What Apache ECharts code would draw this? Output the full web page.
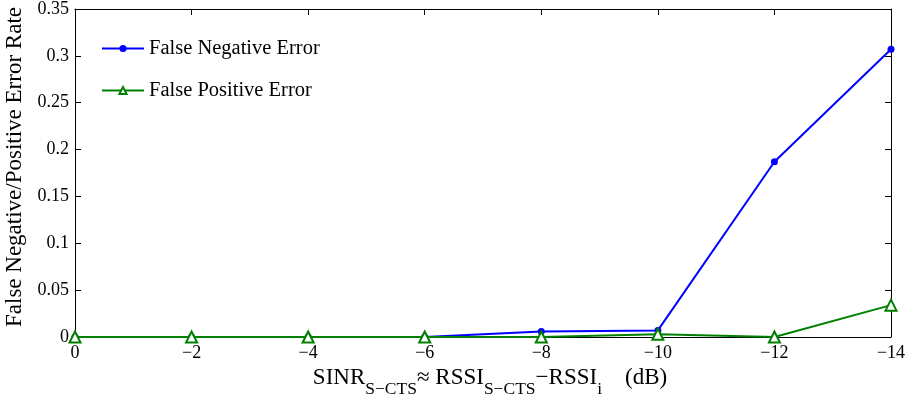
<!DOCTYPE html>
<html>
<head>
<meta charset="utf-8">
<script src="https://cdn.jsdelivr.net/npm/echarts@6/dist/echarts.min.js"></script>
<style>
  html, body { margin: 0; padding: 0; background: #fff; }
  #chart { width: 909px; height: 396px; }
</style>
</head>
<body>
<div id="chart"></div>
<script>
// SINR values (dB) along the x axis
const sinrDb = [0, -2, -4, -6, -8, -10, -12, -14];
// error rates measured at each SINR
const falseNegative = [0, 0, 0, 0, 0.006, 0.007, 0.187, 0.307];
const falsePositive = [0, 0, 0, 0, 0, 0.003, 0, 0.034];
const yTicks = [0, 0.05, 0.1, 0.15, 0.2, 0.25, 0.3, 0.35];

const FONT = '"Liberation Serif", "DejaVu Serif", serif';
const fmtMinus = v => String(v).replace('-', '\u2212');

const chart = echarts.init(document.getElementById('chart'), null, { renderer: 'canvas' });

const axisLineStyle = { color: '#000', width: 1 };
const tickStyle = { inside: true, length: 6, lineStyle: axisLineStyle };

chart.setOption({
  animation: false,
  backgroundColor: '#fff',
  textStyle: { fontFamily: FONT },
  grid: { left: 75, right: 18, top: 9, bottom: 59, containLabel: false, outerBoundsMode: 'none' },
  legend: {
    orient: 'vertical',
    left: 96,
    top: 33,
    itemWidth: 42,
    itemHeight: 9,
    itemGap: 21,
    textStyle: { fontFamily: FONT, fontSize: 20.5, color: '#000' },
    data: [
      { name: 'False Negative Error' },
      { name: 'False Positive Error' }
    ]
  },
  xAxis: [
    {
      type: 'value',
      inverse: true,
      min: -14,
      max: 0,
      interval: 2,
      position: 'bottom',
      axisLine: { onZero: false, lineStyle: axisLineStyle },
      axisTick: tickStyle,
      splitLine: { show: false },
      axisLabel: {
        color: '#000', fontFamily: FONT, fontSize: 18, margin: 7,
        formatter: v => fmtMinus(v)
      },
      name: '{m|SINR}{s|S\u2212CTS}{m|\u2248 RSSI}{s|S\u2212CTS}{m|\u2212RSSI}{s|i}{m|    (dB)}',
      nameLocation: 'middle',
      nameGap: 26,
      nameTextStyle: {
        color: '#000',
        fontFamily: FONT,
        padding: [0, 0, 0, 14],
        rich: {
          m: { fontFamily: FONT, fontSize: 23, color: '#000', verticalAlign: 'top' },
          s: { fontFamily: FONT, fontSize: 17.5, color: '#000', verticalAlign: 'top', padding: [14, 0, 0, 0] }
        }
      }
    },
    {
      type: 'value',
      inverse: true,
      min: -14,
      max: 0,
      interval: 2,
      position: 'top',
      axisLine: { onZero: false, lineStyle: axisLineStyle },
      axisTick: tickStyle,
      axisLabel: { show: false },
      splitLine: { show: false }
    }
  ],
  yAxis: [
    {
      type: 'value',
      min: 0,
      max: 0.35,
      interval: 0.05,
      position: 'left',
      axisLine: { show: true, onZero: false, lineStyle: axisLineStyle },
      axisTick: Object.assign({ show: true }, tickStyle),
      splitLine: { show: false },
      axisLabel: {
        color: '#000', fontFamily: FONT, fontSize: 18, margin: 6,
        formatter: v => {
          const t = yTicks.find(k => Math.abs(k - v) < 1e-9);
          return t === undefined ? '' : String(t);
        }
      },
      name: 'False Negative/Positive Error Rate',
      nameLocation: 'middle',
      nameGap: 44,
      nameTextStyle: { color: '#000', fontFamily: FONT, fontSize: 23, padding: [0, 0, 0, 12] }
    },
    {
      type: 'value',
      min: 0,
      max: 0.35,
      interval: 0.05,
      position: 'right',
      axisLine: { show: true, onZero: false, lineStyle: axisLineStyle },
      axisTick: Object.assign({ show: true }, tickStyle),
      axisLabel: { show: false },
      splitLine: { show: false }
    }
  ],
  series: [
    {
      name: 'False Negative Error',
      type: 'line',
      xAxisIndex: 0,
      yAxisIndex: 0,
      data: sinrDb.map((x, i) => [x, falseNegative[i]]),
      symbol: 'circle',
      symbolSize: 7,
      showAllSymbol: true,
      lineStyle: { color: '#0000ff', width: 2 },
      itemStyle: { color: '#0000ff' },
      z: 3
    },
    {
      name: 'False Positive Error',
      type: 'line',
      xAxisIndex: 0,
      yAxisIndex: 0,
      data: sinrDb.map((x, i) => [x, falsePositive[i]]),
      symbol: 'emptyTriangle',
      symbolSize: 11,
      showAllSymbol: true,
      lineStyle: { color: '#008000', width: 2 },
      itemStyle: { color: '#008000', borderWidth: 2 },
      z: 4
    }
  ]
});
</script>
</body>
</html>
